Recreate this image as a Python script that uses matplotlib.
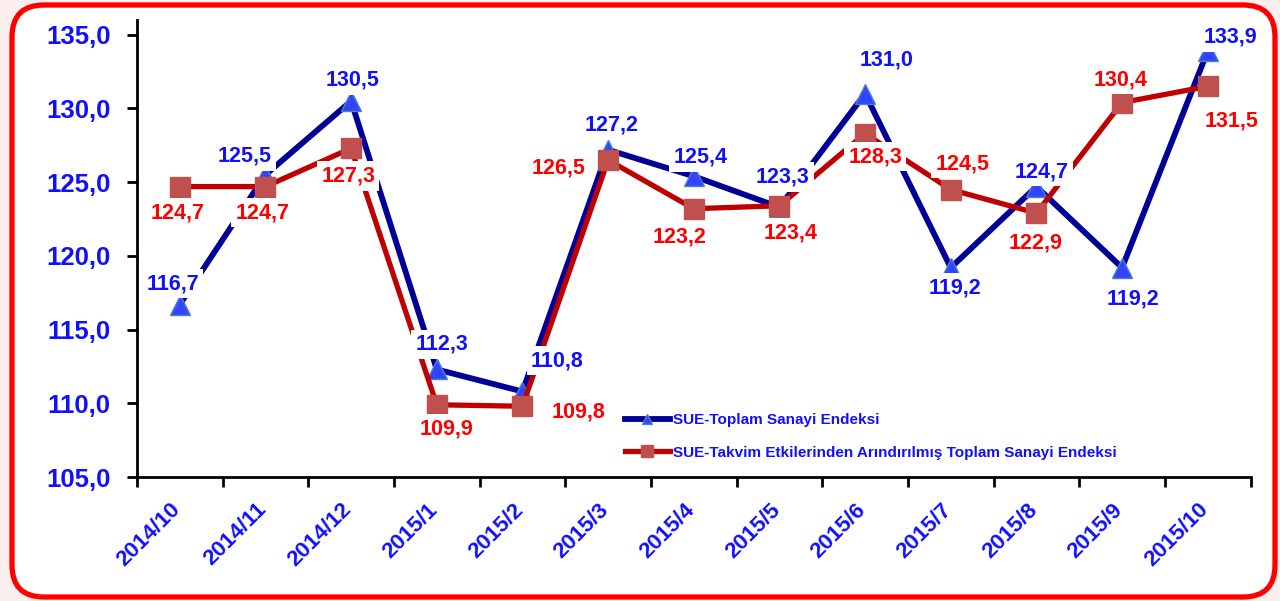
import matplotlib
matplotlib.use('Agg')
from matplotlib import pyplot as pl
from matplotlib.patches import FancyBboxPatch
from matplotlib.ticker import FuncFormatter
from matplotlib.transforms import ScaledTranslation
import numpy as np

pl.rcParams['font.family'] = ['Liberation Sans', 'DejaVu Sans']
pl.rcParams['font.weight'] = 'bold'

months = ['2014/10', '2014/11', '2014/12', '2015/1', '2015/2', '2015/3', '2015/4',
          '2015/5', '2015/6', '2015/7', '2015/8', '2015/9', '2015/10']
toplam = [116.7, 125.5, 130.5, 112.3, 110.8, 127.2, 125.4,
          123.3, 131.0, 119.2, 124.7, 119.2, 133.9]
takvim = [124.7, 124.7, 127.3, 109.9, 109.8, 126.5, 123.2,
          123.4, 128.3, 124.5, 122.9, 130.4, 131.5]
names = ['SUE-Toplam Sanayi Endeksi',
         'SUE-Takvim Etkilerinden Arındırılmış Toplam Sanayi Endeksi']

# label offsets in pixels (dx, dy)
off_toplam = [(-7, 21), (-21, 19), (1, 21), (5, 25), (35, 31), (4, 25), (7, 19),
              (3, 30), (21, 34), (4, -20), (5, 15), (11, -31), (23, 14)]
off_takvim = [(-2, -26), (-3, -26), (-3, -28), (10, -24), (56, -6), (-50, -8), (-14, -28),
              (11, -27), (10, -23), (12, 26), (-1, -30), (-2, 23), (24, -35)]

fig = pl.figure(figsize=(12.8, 6.01), dpi=100, facecolor='#fbeeee')

frame = FancyBboxPatch((0.12, 0.04), 12.63, 5.92,
                       boxstyle='round,pad=0,rounding_size=0.32',
                       transform=fig.dpi_scale_trans,
                       facecolor='white', edgecolor='#ff0000',
                       linewidth=3.8, zorder=-1)
fig.patches.append(frame)

ax = fig.add_axes([0.107, 0.2063, 0.870, 0.7604])
ax.patch.set_alpha(0)

x = np.arange(len(months))

ax.plot(x, toplam, color='#000099', linewidth=4.2, marker='^',
        markersize=14, markerfacecolor='#3344ff', markeredgecolor='#4f81bd',
        markeredgewidth=1, label=names[0], zorder=3)
ax.plot(x, takvim, color='#c00000', linewidth=3.8, marker='s',
        markersize=15, markerfacecolor='#c0504d', markeredgecolor='#c0504d',
        markeredgewidth=1, label=names[1], zorder=3)

for xi, v, o in zip(x, toplam, off_toplam):
    ax.annotate(f'{v:.1f}'.replace('.', ','), (xi, v), xytext=o,
                textcoords='offset pixels', ha='center', va='center',
                fontsize=15.5, fontweight='bold', color='#1010ff',
                bbox=dict(boxstyle='square,pad=0.2', facecolor='white', edgecolor='none'),
                zorder=6, annotation_clip=False)
for xi, v, o in zip(x, takvim, off_takvim):
    ax.annotate(f'{v:.1f}'.replace('.', ','), (xi, v), xytext=o,
                textcoords='offset pixels', ha='center', va='center',
                fontsize=15.5, fontweight='bold', color='#ff0000',
                bbox=dict(boxstyle='square,pad=0.2', facecolor='white', edgecolor='none'),
                zorder=6, annotation_clip=False)

ax.set_xlim(-0.5, len(months) - 0.5)
ax.set_ylim(105, 136)
ax.set_yticks(np.arange(105, 136, 5))
ax.yaxis.set_major_formatter(FuncFormatter(lambda v, p: f'{v:.1f}'.replace('.', ',')))

ax.set_xticks(np.arange(-0.5, len(months), 1))
ax.set_xticklabels([])
ax.set_xticks(x, minor=True)
ax.set_xticklabels(months, minor=True, rotation=45, ha='right', va='top')
ax.tick_params(axis='x', which='minor', length=0, pad=16, labelsize=16,
               labelcolor='#1010ff')
ax.tick_params(axis='x', which='major', length=7, width=2)
ax.tick_params(axis='y', length=7, width=2, pad=12, labelsize=18.5, labelcolor='#1010ff')
shift = ScaledTranslation(5 / 100, 0, fig.dpi_scale_trans)
for lab in ax.get_xticklabels(minor=True):
    lab.set_fontweight('bold')
    lab.set_transform(lab.get_transform() + shift)
for lab in ax.get_yticklabels():
    lab.set_fontweight('bold')

for s in ['top', 'right']:
    ax.spines[s].set_visible(False)
for s in ['left', 'bottom']:
    ax.spines[s].set_linewidth(2)

leg = ax.legend(loc='upper left', bbox_to_anchor=(0.488, 0.312),
                bbox_transform=fig.transFigure, frameon=False, fontsize=11,
                handlelength=2.95, handletextpad=0.2, labelspacing=1.2,
                borderpad=0, borderaxespad=0, markerscale=0.55, numpoints=1)
for t in leg.get_texts():
    t.set_color('#1010ff')
    t.set_fontweight('bold')

fig.savefig('out.png', dpi=100, facecolor=fig.get_facecolor())
